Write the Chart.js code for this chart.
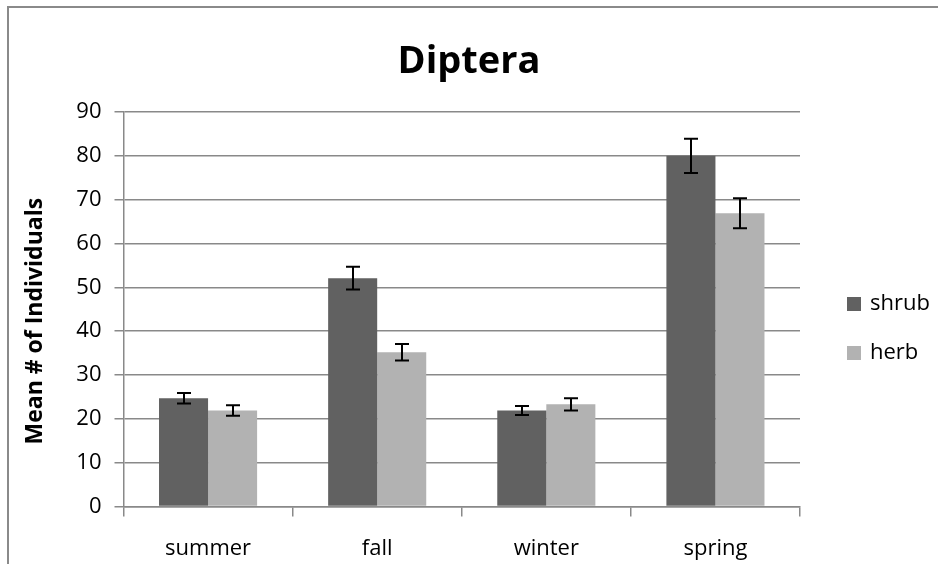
<!DOCTYPE html>
<html>
<head>
<meta charset="utf-8">
<title>Diptera</title>
<script src="https://cdn.jsdelivr.net/npm/chart.js@4.4.1/dist/chart.umd.min.js"></script>
<style>
  body { margin: 0; background: #fff; overflow: hidden; }
  #wrap { position: relative; width: 938px; height: 564px; }
  #frame {
    position: absolute; left: 7px; top: 6px; width: 1000px; height: 700px;
    border: 2px solid #8a8a8a; box-sizing: border-box;
  }
  canvas { position: absolute; left: 0; top: 0; }
</style>
</head>
<body>
<div id="wrap">
  <div id="frame"></div>
  <canvas id="chart" width="938" height="564"></canvas>
</div>
<script>
// values
const seasons = ['summer', 'fall', 'winter', 'spring'];
const shrub = [24.7, 52.1, 21.9, 80.0];
const herb = [21.9, 35.2, 23.3, 66.9];
const shrubErr = [1.2, 2.6, 1.0, 3.9];
const herbErr = [1.2, 1.9, 1.4, 3.4];
const yTicks = [0, 10, 20, 30, 40, 50, 60, 70, 80, 90];

const FONT = "'Open Sans', sans-serif";
const GRID = '#898989';

// error bars drawn from the bar elements and the y scale
const errorBars = {
  id: 'errorBars',
  afterDatasetsDraw(chart) {
    const { ctx } = chart;
    const y = chart.scales.y;
    ctx.save();
    ctx.strokeStyle = '#000';
    ctx.lineWidth = 2;
    chart.data.datasets.forEach((ds, i) => {
      const meta = chart.getDatasetMeta(i);
      meta.data.forEach((bar, j) => {
        const v = ds.data[j], e = ds.errors[j];
        const top = y.getPixelForValue(v + e);
        const bot = y.getPixelForValue(v - e);
        const x = Math.round(bar.x);
        ctx.beginPath();
        ctx.moveTo(x, top); ctx.lineTo(x, bot);
        ctx.moveTo(x - 7, top); ctx.lineTo(x + 7, top);
        ctx.moveTo(x - 7, bot); ctx.lineTo(x + 7, bot);
        ctx.stroke();
      });
    });
    ctx.restore();
  }
};

// legend on the right, like the spreadsheet one
const sideLegend = {
  id: 'sideLegend',
  afterDraw(chart) {
    const { ctx, chartArea } = chart;
    const x0 = chartArea.right + 47;
    ctx.save();
    ctx.font = '22px ' + FONT;
    ctx.textBaseline = 'middle';
    chart.data.datasets.forEach((ds, i) => {
      const cy = 304 + i * 49;
      ctx.fillStyle = ds.backgroundColor;
      ctx.fillRect(x0, cy - 7, 14, 14);
      ctx.fillStyle = '#000';
      ctx.fillText(ds.label, x0 + 23, cy);
    });
    ctx.restore();
  }
};

new Chart(document.getElementById('chart'), {
  type: 'bar',
  data: {
    labels: seasons,
    datasets: [
      { label: 'shrub', data: shrub, errors: shrubErr, backgroundColor: '#616161' },
      { label: 'herb', data: herb, errors: herbErr, backgroundColor: '#b2b2b2' }
    ]
  },
  options: {
    responsive: false,
    animation: false,
    devicePixelRatio: 1,
    categoryPercentage: 0.58,
    barPercentage: 1,
    layout: { padding: 0 },
    plugins: {
      legend: { display: false },
      tooltip: { enabled: false },
      title: {
        display: true,
        text: 'Diptera',
        color: '#000',
        font: { family: FONT, size: 38, weight: 'bold' },
        padding: { top: 39, bottom: 27.4 }
      }
    },
    scales: {
      x: {
        grid: { display: true, drawOnChartArea: false, color: GRID, lineWidth: 1.5, tickLength: 10, offset: true },
        border: { color: GRID, width: 1.5 },
        ticks: { color: '#000', font: { family: FONT, size: 22 }, padding: 19 },
        afterFit(scale) { scale.height = 57.5; }
      },
      y: {
        min: 0,
        max: 90,
        afterBuildTicks(scale) { scale.ticks = yTicks.map(v => ({ value: v })); },
        grid: { color: GRID, lineWidth: 1.5, tickLength: 9 },
        border: { color: GRID, width: 1.5 },
        ticks: { color: '#000', font: { family: FONT, size: 22 }, padding: 13 },
        title: {
          display: true,
          text: 'Mean # of Individuals    ',
          color: '#000',
          font: { family: FONT, size: 23, weight: 'bold' },
          padding: { top: 22, bottom: 0 }
        },
        afterFit(scale) { scale.width = 123.5; }
      },
      // empty axis on the right that keeps room for the legend
      side: {
        type: 'linear',
        position: 'right',
        grid: { display: false },
        border: { display: false },
        ticks: { display: false },
        afterFit(scale) { scale.width = 138; }
      }
    }
  },
  plugins: [errorBars, sideLegend]
});
</script>
</body>
</html>
